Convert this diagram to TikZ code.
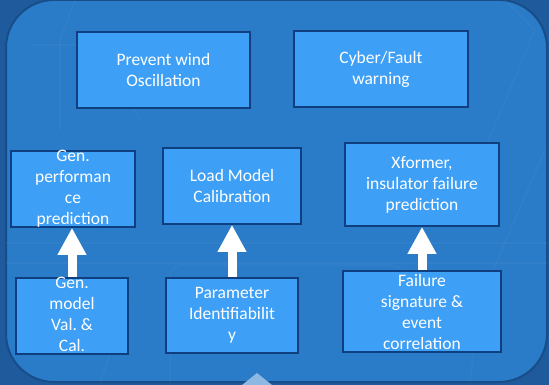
\documentclass[tikz,border=0pt]{standalone}
\usepackage{fontspec}
\setmainfont{Carlito}
\usetikzlibrary{arrows.meta}
\definecolor{outerbg}{HTML}{1F5B9C}
\definecolor{panelfill}{HTML}{2A7BC8}
\definecolor{panelline}{HTML}{174E8A}
\definecolor{boxfill}{HTML}{3D9FF6}
\definecolor{boxline}{HTML}{0F3F7E}
\definecolor{tri}{HTML}{8DB8E2}
\tikzset{
  box/.style={draw=boxline, fill=boxfill, line width=1.6pt, inner sep=0pt, rectangle},
  boxtext/.style={text=white, align=center, inner sep=0pt, font=\fontsize{17.5}{21}\selectfont},
  uparrow/.style={draw=white, line width=9pt, -{Triangle[width=27pt,length=27pt]}},
  faint/.style={draw=white, opacity=0.035, line width=1.5pt}
}
\begin{document}
\begin{tikzpicture}[x=1pt,y=-1pt]
\useasboundingbox (0,0) rectangle (549,385);
\fill[outerbg] (0,0) rectangle (549,385);
\draw[panelline, fill=panelfill, line width=2pt, rounded corners=48pt] (6,0) rectangle (547,382);
% faint background pattern
\draw[faint] (75,0) -- (60,40) -- (60,130);
\draw[faint] (30,45) -- (100,45) -- (140,120);
\draw[faint] (505,0) -- (535,30) -- (480,160);
\draw[faint] (545,150) -- (480,300) -- (470,382);
\draw[faint, rounded corners=12pt] (170,382) -- (170,265) -- (400,265) -- (440,320);
\draw[faint] (6,243) -- (547,243);
\draw[faint] (6,263) -- (547,263);
\draw[faint] (100,382) -- (130,300);
% boxes
\node[box, minimum width=173pt, minimum height=76pt] (pw) at (163.5,70) {};
\node[box, minimum width=174pt, minimum height=76pt] (cf) at (381,69) {};
\node[box, minimum width=124pt, minimum height=76pt] (gp) at (73,189) {};
\node[box, minimum width=138pt, minimum height=76pt] (lm) at (232,186) {};
\node[box, minimum width=154pt, minimum height=83pt] (xf) at (422,184.5) {};
\node[box, minimum width=112pt, minimum height=76pt] (gm) at (72,316) {};
\node[box, minimum width=132pt, minimum height=75pt] (pi) at (232,315.5) {};
\node[box, minimum width=158pt, minimum height=81pt] (fs) at (422,311.5) {};
% arrows
\draw[uparrow] (gm.north) -- (gm.north |- gp.south);
\draw[uparrow] (pi.north) -- (pi.north |- lm.south);
\draw[uparrow] (fs.north) -- (fs.north |- xf.south);
% texts
\node[boxtext] (pwt) at (pw) {Prevent wind\\Oscillation};
\node[boxtext] (cft) at (cf) {Cyber/Fault\\warning};
\node[boxtext] (gpt) at (gp) {Gen.\\performan\\ce\\prediction};
\node[boxtext] (lmt) at (lm) {Load Model\\Calibration};
\node[boxtext] (xft) at (xf) {Xformer,\\insulator failure\\prediction};
\node[boxtext] (gmt) at ([yshift=2pt]gm.center) {Gen.\\model\\Val.\ \&\\Cal.};
\node[boxtext] (pit) at (pi) {Parameter\\Identifiabilit\\y};
\node[boxtext] (fst) at (fs) {Failure\\signature \&\\event\\correlation};
% bottom triangle
\fill[tri] (257,373) coordinate (triapex) -- (272,385) -- (242,385) -- cycle;
\end{tikzpicture}
\end{document}
